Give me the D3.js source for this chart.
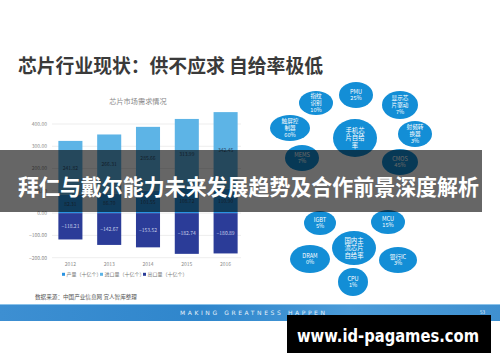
<!DOCTYPE html>
<html>
<head>
<meta charset="utf-8">
<script src="https://cdn.jsdelivr.net/npm/d3@7"></script>
<style>
  html, body { margin: 0; padding: 0; background: #fff; }
  svg { display: block; font-family: "Noto Sans CJK SC", "Noto Sans", sans-serif; }
</style>
</head>
<body>
<svg id="chart" width="500" height="362"></svg>
<script>
// bar chart data (十亿个)
const years = ["2012", "2013", "2014", "2015", "2016"];
const production = [82.31, 86.70, 101.55, 108.72, 110.90];
const imports = [241.82, 266.31, 285.66, 313.99, 342.45];
const exports = [-118.21, -142.67, -153.52, -182.74, -180.89];
const yTicks = [-200, -100, 0, 100, 200, 300, 400];
const seriesNames = ["产量（十亿个）", "进口量（十亿个）", "出口量（十亿个）"];

// bubble diagram data
const phoneCenter = ["手机芯", "片自给", "率"];
const phoneChips = [["指纹", "识别"], ["PMU"], ["显示芯", "片驱动"], ["触屏控", "制器"], ["射频转", "换器"], ["MEMS"], ["CMOS"]];
const phoneRates = ["10%", "25%", "7%", "60%", "3%", "7%", "45%"];
const domesticCenter = ["国内主", "流芯片", "自给率"];
const domesticChips = [["IGBT"], ["MCU"], ["DRAM"], ["银行IC"], ["CPU"]];
const domesticRates = ["5%", "15%", "0%", "3%", "1%"];

// layout of the bubbles (offset from ring centre, ellipse radii)
const phoneLayout = [[-39, -35, 17, 12], [1, -43, 17, 13], [45, -33, 18, 14], [-65, -10, 20, 13], [60, -4, 17, 13], [-53, 20, 17, 13], [45, 24, 18, 13]];
const domesticLayout = [[-34, -25, 16, 12], [34, -26, 17, 12], [-44, 11, 20, 14], [44, 12, 19, 13], [-1, 34, 15, 14]];

const svg = d3.select("#chart");
const colors = ["#2a93e2", "#5db4e6", "#2b3c98"];
const bubbleColor = "#138ed6";

// ---- title
svg.append("text")
  .attr("x", 18).attr("y", 73)
  .attr("font-size", 19).attr("font-weight", "bold").attr("fill", "#3a3a3a")
  .attr("textLength", 305).attr("lengthAdjust", "spacingAndGlyphs")
  .text("芯片行业现状：供不应求 自给率极低");

// ---- bar chart
const x = d3.scaleBand().domain(years).range([51, 245]).paddingInner(0.38).paddingOuter(0.19);
const y = d3.scaleLinear().domain([-200, 400]).range([257.7, 124]);

svg.append("text")
  .attr("x", 138).attr("y", 103.5).attr("text-anchor", "middle")
  .attr("font-size", 7.2).attr("fill", "#8a8a8a")
  .text("芯片市场需求情况");

const grid = svg.append("g");
grid.selectAll("line").data(yTicks).join("line")
  .attr("x1", 52).attr("x2", 241)
  .attr("y1", d => y(d)).attr("y2", d => y(d))
  .attr("stroke", "#e8e8e8").attr("stroke-width", 0.8);
grid.selectAll("text").data(yTicks).join("text")
  .attr("x", 47).attr("y", d => y(d) + 1.8).attr("text-anchor", "end")
  .attr("font-size", 5).attr("fill", "#8a8a8a")
  .text(d => d3.format(".2f")(d));

const rows = years.map((yr, i) => ({ year: yr, production: production[i], imports: imports[i], exports: exports[i] }));
const keys = ["production", "imports", "exports"];
const stacked = d3.stack().keys(keys).offset(d3.stackOffsetDiverging)(rows);

const layers = svg.append("g").selectAll("g").data(stacked).join("g")
  .attr("fill", (d, i) => colors[i]);
layers.selectAll("rect").data(d => d).join("rect")
  .attr("x", d => x(d.data.year))
  .attr("width", x.bandwidth())
  .attr("y", d => y(Math.max(d[0], d[1])))
  .attr("height", d => Math.abs(y(d[0]) - y(d[1])));
layers.selectAll("text").data((d, i) => d.map(p => ({ p, key: d.key, i }))).join("text")
  .attr("x", d => x(d.p.data.year) + x.bandwidth() / 2)
  .attr("y", d => y((d.p[0] + d.p[1]) / 2) + 1.8)
  .attr("text-anchor", "middle").attr("font-size", 5)
  .attr("fill", d => d.i === 2 ? "#c9d0ea" : "#2f4d66")
  .text(d => d3.format(".2f")(d.p.data[d.key]));

svg.append("g").selectAll("text").data(years).join("text")
  .attr("x", d => x(d) + x.bandwidth() / 2).attr("y", 266)
  .attr("text-anchor", "middle").attr("font-size", 5).attr("fill", "#8a8a8a")
  .text(d => d);

const legendX = [62, 100, 143];
const legend = svg.append("g").selectAll("g").data(seriesNames).join("g")
  .attr("transform", (d, i) => `translate(${legendX[i]},275)`);
legend.append("rect").attr("x", 0).attr("y", -2.2).attr("width", 3).attr("height", 3)
  .attr("fill", (d, i) => colors[i]);
legend.append("text").attr("x", 4.5).attr("y", 1).attr("font-size", 5).attr("fill", "#777")
  .text(d => d);

// ---- bubbles
function drawRing(cx, cy, center, names, rates, layout, centerR) {
  const g = svg.append("g");
  const nodes = names.map((n, i) => ({ lines: n.concat([rates[i]]), l: layout[i] }));
  const b = g.selectAll("g").data(nodes).join("g")
    .attr("transform", d => `translate(${cx + d.l[0]},${cy + d.l[1]})`);
  b.append("ellipse").attr("rx", d => d.l[2]).attr("ry", d => d.l[3]).attr("fill", bubbleColor);
  b.each(function (d) {
    const lh = 6.8;
    d3.select(this).selectAll("text").data(d.lines).join("text")
      .attr("text-anchor", "middle").attr("font-size", 5.6).attr("fill", "#fff")
      .attr("y", (t, j) => (j - (d.lines.length - 1) / 2) * lh + 2)
      .text(t => t);
  });
  const c = g.append("g").attr("transform", `translate(${cx},${cy})`);
  c.append("ellipse").attr("rx", centerR[0]).attr("ry", centerR[1]).attr("fill", bubbleColor);
  c.selectAll("text").data(center).join("text")
    .attr("text-anchor", "middle").attr("font-size", 6.4).attr("fill", "#fff")
    .attr("y", (t, j) => (j - 1) * 7.8 + 2.3)
    .text(t => t);
}
drawRing(355, 138, phoneCenter, phoneChips, phoneRates, phoneLayout, [22, 19]);
drawRing(354, 248, domesticCenter, domesticChips, domesticRates, domesticLayout, [22, 17]);

// ---- source + footer strip
svg.append("text")
  .attr("x", 35).attr("y", 298.5).attr("font-size", 5.6).attr("fill", "#555")
  .text("数据来源：中国产业信息网 宜人智库整理");

const defs = svg.append("defs");
const grad = defs.append("linearGradient").attr("id", "strip").attr("x1", 0).attr("x2", 1);
grad.append("stop").attr("offset", 0).attr("stop-color", "#3d8fd2");
grad.append("stop").attr("offset", 0.4).attr("stop-color", "#2f86cc");
grad.append("stop").attr("offset", 0.7).attr("stop-color", "#4a9bd8");
grad.append("stop").attr("offset", 1).attr("stop-color", "#3f90d0");
svg.append("rect").attr("x", 0).attr("y", 304).attr("width", 500).attr("height", 17).attr("fill", "url(#strip)");
svg.append("rect").attr("x", 0).attr("y", 304).attr("width", 500).attr("height", 0.8).attr("fill", "#9fd0f0");
svg.append("text")
  .attr("x", 180).attr("y", 314.5).attr("font-size", 6).attr("fill", "#e6f1fa")
  .attr("font-family", "DejaVu Sans, sans-serif")
  .attr("textLength", 145).attr("lengthAdjust", "spacing")
  .text("MAKING GREATNESS HAPPEN");
svg.append("text")
  .attr("x", 480).attr("y", 314).attr("font-size", 4.5).attr("fill", "#e6f1fa")
  .text("53");

// ---- overlay banner
svg.append("rect").attr("x", 0).attr("y", 150).attr("width", 482).attr("height", 62)
  .attr("fill", "rgba(0,0,0,0.6)");
svg.append("text")
  .attr("x", 18).attr("y", 195).attr("font-size", 22).attr("font-weight", "bold").attr("fill", "#fff")
  .attr("textLength", 461).attr("lengthAdjust", "spacingAndGlyphs")
  .text("拜仁与戴尔能力未来发展趋势及合作前景深度解析");

// ---- watermark
svg.append("rect").attr("x", 287).attr("y", 315).attr("width", 204).attr("height", 38).attr("fill", "#000");
svg.append("text")
  .attr("x", 297).attr("y", 342).attr("font-size", 18).attr("font-weight", "bold").attr("fill", "#fff")
  .attr("font-family", "DejaVu Sans, sans-serif")
  .attr("textLength", 182).attr("lengthAdjust", "spacingAndGlyphs")
  .text("www.id-pagames.com");
</script>
</body>
</html>
